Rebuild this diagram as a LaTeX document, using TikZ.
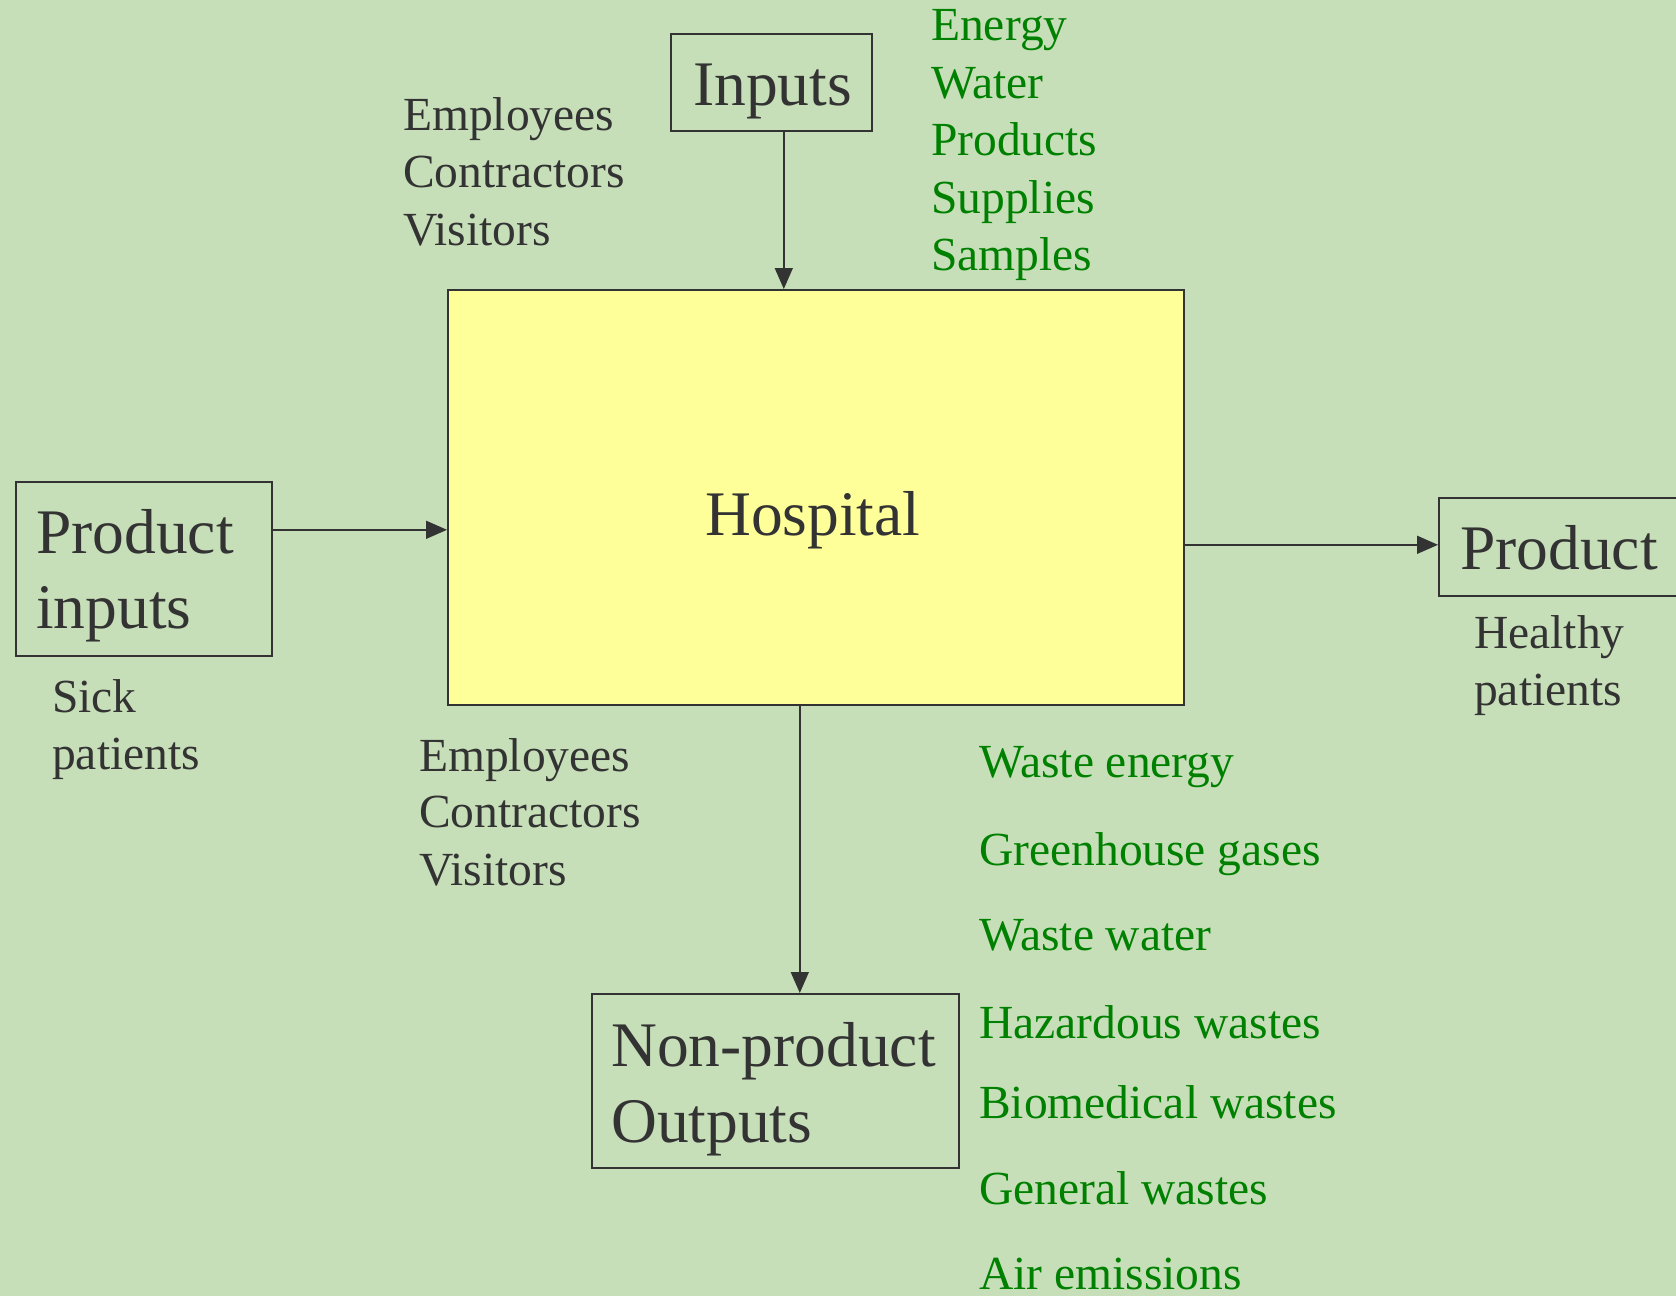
\documentclass[tikz,border=0pt]{standalone}
\usepackage{fontspec}
\setmainfont{Liberation Serif}
\usepackage{xcolor}
\usetikzlibrary{arrows.meta}

\definecolor{textgrey}{HTML}{333333}
\definecolor{listgreen}{HTML}{008000}
\definecolor{boxyellow}{HTML}{FFFF99}
\definecolor{bggreen}{RGB}{198,223,184}

\begin{document}
\begin{tikzpicture}[x=1pt,y=-1pt]
    \tikzstyle{every node}+=[inner sep=0pt]
    \tikzstyle{frame}=[draw=textgrey, line width=1.6pt, rectangle, anchor=north west]
    \tikzstyle{bigtext}=[anchor=base west, text=textgrey, font=\fontsize{63.5}{75}\selectfont]
    \tikzstyle{greytext}=[anchor=base west, text=textgrey, font=\fontsize{47.5}{57}\selectfont]
    \tikzstyle{greentext}=[anchor=base west, text=listgreen, font=\fontsize{47.5}{57}\selectfont]
    \tikzstyle{flow}=[draw=textgrey, line width=1.6pt, -{Triangle[length=21pt,width=18pt]}]
    \clip (0,0) rectangle (1676,1296);
    \fill [bggreen] (0,0) rectangle (1676,1296);
    % boxes
    \node [frame, minimum width=201pt, minimum height=97pt] (inputs) at (670,33) {};
    \node [frame, fill=boxyellow, minimum width=736pt, minimum height=415pt] (hospital) at (447,289) {};
    \node [frame, minimum width=256pt, minimum height=174pt] (prodin) at (15,481) {};
    \node [frame, minimum width=260pt, minimum height=98pt] (product) at (1438,497) {};
    \node [frame, minimum width=367pt, minimum height=174pt] (nonprod) at (591,993) {};
    % box texts
    \node [bigtext] (inputs-t) at (693,105) {Inputs};
    \node [bigtext] (hospital-t) at (705,535) {Hospital};
    \node [bigtext] (prodin-t1) at (36,553) {Product};
    \node [bigtext] (prodin-t2) at (36,628) {inputs};
    \node [bigtext] (product-t) at (1460,569) {Product};
    \node [bigtext] (nonprod-t1) at (611,1066) {Non-product};
    \node [bigtext] (nonprod-t2) at (611,1142) {Outputs};
    % arrows
    \draw [flow] ([xshift=12.5pt]inputs.south) -- ([xshift=12.5pt]inputs.south |- hospital.north);
    \draw [flow] ([yshift=39pt]prodin.east) -- ([yshift=39pt]prodin.east -| hospital.west);
    \draw [flow] ([yshift=-47.5pt]hospital.east) -- ([yshift=-47.5pt]hospital.east -| product.west);
    \draw [flow] ([xshift=-16pt]hospital.south) -- ([xshift=-16pt]hospital.south |- nonprod.north);
    % grey labels
    \foreach \word/\y in {Employees/130, Contractors/187, Visitors/245}
        \node [greytext] (people-in-\y) at (403,\y) {\word};
    \foreach \word/\y in {Employees/771, Contractors/827, Visitors/885}
        \node [greytext] (people-out-\y) at (419,\y) {\word};
    \node [greytext] (sick-1) at (52,712) {Sick};
    \node [greytext] (sick-2) at (52,769) {patients};
    \node [greytext] (healthy-1) at (1474,648) {Healthy};
    \node [greytext] (healthy-2) at (1474,705) {patients};
    % green lists
    \foreach \word/\y in {Energy/40, Water/98, Products/155, Supplies/213, Samples/270}
        \node [greentext] (res-\y) at (931,\y) {\word};
    \foreach \word/\y in {Waste energy/777, Greenhouse gases/865, Waste water/950,
        Hazardous wastes/1038, Biomedical wastes/1118, General wastes/1204, Air emissions/1289}
        \node [greentext] (waste-\y) at (979,\y) {\word};
\end{tikzpicture}
\end{document}
